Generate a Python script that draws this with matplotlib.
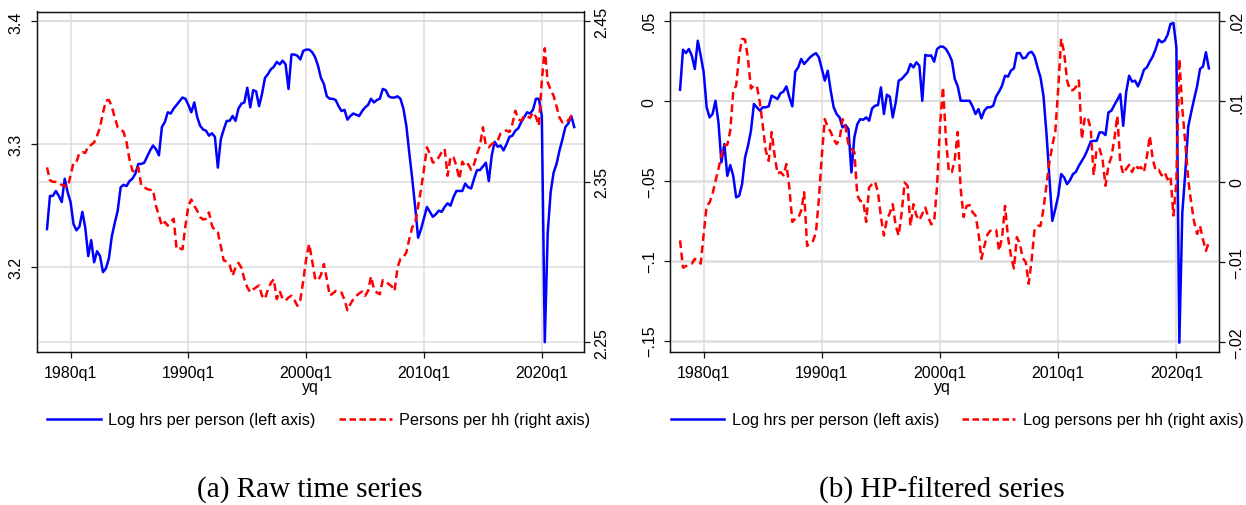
import numpy as np
import pandas as pd
import matplotlib
matplotlib.use("Agg")
import matplotlib.pyplot as plt
from matplotlib.lines import Line2D

plt.rcParams['font.family'] = ['Liberation Sans', 'DejaVu Sans']

# ---------------- data ----------------
quarters = pd.period_range("1978Q1", "2022Q4", freq="Q")
xq = np.asarray(quarters.year + (quarters.quarter - 1) / 4.0, dtype=float)

log_hrs_raw = [
    3.231, 3.258, 3.258, 3.262, 3.258, 3.253, 3.272, 3.261, 3.253, 3.235,
    3.230, 3.233, 3.245, 3.232, 3.209, 3.222, 3.204, 3.213, 3.209, 3.196,
    3.199, 3.207, 3.225, 3.236, 3.246, 3.265, 3.267, 3.266, 3.270, 3.272,
    3.276, 3.284, 3.284, 3.285, 3.290, 3.295, 3.299, 3.296, 3.291, 3.314,
    3.318, 3.326, 3.325, 3.329, 3.332, 3.335, 3.338, 3.337, 3.332, 3.326,
    3.334, 3.322, 3.315, 3.312, 3.311, 3.307, 3.309, 3.306, 3.281, 3.304,
    3.312, 3.319, 3.319, 3.323, 3.319, 3.329, 3.333, 3.334, 3.346, 3.330,
    3.344, 3.343, 3.331, 3.341, 3.354, 3.357, 3.361, 3.363, 3.367, 3.365,
    3.368, 3.365, 3.345, 3.373, 3.373, 3.372, 3.369, 3.376, 3.377, 3.377,
    3.375, 3.371, 3.364, 3.354, 3.349, 3.339, 3.337, 3.337, 3.336, 3.331,
    3.327, 3.328, 3.320, 3.323, 3.325, 3.324, 3.323, 3.327, 3.330, 3.332,
    3.337, 3.334, 3.336, 3.337, 3.345, 3.344, 3.339, 3.338, 3.338, 3.339,
    3.337, 3.329, 3.315, 3.293, 3.272, 3.249, 3.224, 3.231, 3.240, 3.249,
    3.245, 3.241, 3.243, 3.246, 3.245, 3.249, 3.252, 3.250, 3.257, 3.262,
    3.262, 3.262, 3.268, 3.265, 3.264, 3.272, 3.279, 3.279, 3.282, 3.285,
    3.270, 3.291, 3.302, 3.298, 3.299, 3.295, 3.300, 3.306, 3.307, 3.311,
    3.313, 3.318, 3.322, 3.326, 3.325, 3.328, 3.337, 3.337, 3.323, 3.139,
    3.228, 3.261, 3.277, 3.284, 3.295, 3.304, 3.314, 3.317, 3.323, 3.314,
]

persons_hh_raw = [
    2.359, 2.351, 2.350, 2.350, 2.3495, 2.348, 2.3476, 2.3466, 2.354, 2.362,
    2.3625, 2.368, 2.3685, 2.368, 2.3725, 2.373, 2.3746, 2.3787, 2.384, 2.393,
    2.4005, 2.401, 2.397, 2.390, 2.384, 2.383, 2.381, 2.3746, 2.364, 2.357,
    2.356, 2.359, 2.3476, 2.3466, 2.3455, 2.345, 2.345, 2.335, 2.329, 2.3227,
    2.325, 2.3227, 2.3248, 2.327, 2.308, 2.3085, 2.308, 2.3227, 2.335, 2.339,
    2.335, 2.332, 2.328, 2.3265, 2.327, 2.331, 2.3227, 2.3195, 2.3185, 2.310,
    2.301, 2.3005, 2.2985, 2.2915, 2.2965, 2.2995, 2.2965, 2.2894, 2.2843, 2.2812,
    2.283, 2.2843, 2.2855, 2.279, 2.277, 2.283, 2.287, 2.2894, 2.277, 2.282,
    2.277, 2.276, 2.278, 2.279, 2.2763, 2.2728, 2.2763, 2.2884, 2.302, 2.3113,
    2.301, 2.290, 2.2884, 2.292, 2.2988, 2.2894, 2.279, 2.2805, 2.282, 2.281,
    2.281, 2.2765, 2.270, 2.2738, 2.277, 2.279, 2.2805, 2.2817, 2.279, 2.282,
    2.2911, 2.2832, 2.281, 2.280, 2.2888, 2.288, 2.2863, 2.285, 2.282, 2.2967,
    2.302, 2.303, 2.306, 2.3144, 2.3217, 2.3243, 2.335, 2.3455, 2.358, 2.3715,
    2.3673, 2.362, 2.3626, 2.3653, 2.3684, 2.3705, 2.3538, 2.3657, 2.3653, 2.360,
    2.3517, 2.3626, 2.3595, 2.361, 2.3575, 2.361, 2.3673, 2.3725, 2.384, 2.3725,
    2.3715, 2.3735, 2.3746, 2.3756, 2.3802, 2.3815, 2.382, 2.381, 2.386, 2.3943,
    2.389, 2.388, 2.391, 2.391, 2.3898, 2.3933, 2.3905, 2.385, 2.413, 2.4332,
    2.412, 2.4073, 2.4036, 2.397, 2.390, 2.387, 2.3885, 2.388, 2.391, 2.3922,
]

log_hrs_hp = [
    0.0071, 0.0322, 0.0301, 0.0326, 0.0284, 0.0201, 0.0378, 0.0284, 0.018, -0.0039,
    -0.0102, -0.0081, 0.0002, -0.0133, -0.0384, -0.0269, -0.0468, -0.0401, -0.0468, -0.0603,
    -0.0593, -0.052, -0.0353, -0.028, -0.0186, -0.0018, -0.0039, -0.006, -0.0039, -0.0039,
    -0.0033, 0.0034, 0.0024, 0.0013, 0.0049, 0.006, 0.0092, 0.0024, -0.0033, 0.0184,
    0.0211, 0.0264, 0.0232, 0.0253, 0.0274, 0.0289, 0.030, 0.0274, 0.0201, 0.0128,
    0.019, 0.0065, -0.0039, -0.0081, -0.0102, -0.0165, -0.015, -0.0175, -0.0447, -0.0227,
    -0.0144, -0.0113, -0.0117, -0.0102, -0.0123, -0.0046, -0.0029, -0.0025, 0.0086, -0.0081,
    0.0040, 0.0028, -0.0102, -0.0008, 0.0128, 0.0138, 0.0159, 0.018, 0.0232, 0.0211,
    0.0243, 0.0222, 0.0002, 0.0289, 0.0284, 0.0286, 0.0247, 0.0326, 0.0341, 0.0341,
    0.0326, 0.0295, 0.0253, 0.0138, 0.0092, 0.0002, 0.0002, 0.0002, 0.0002, -0.0033,
    -0.0081, -0.005, -0.0108, -0.006, -0.0039, -0.0039, -0.0029, 0.003, 0.006, 0.0097,
    0.0159, 0.0153, 0.0191, 0.0205, 0.030, 0.0301, 0.0268, 0.0272, 0.0301, 0.0309,
    0.028, 0.0211, 0.0149, 0.0034, -0.0196, -0.0468, -0.075, -0.0677, -0.0593, -0.0457,
    -0.0478, -0.052, -0.0495, -0.0457, -0.0443, -0.0405, -0.0374, -0.0343, -0.0301, -0.0253,
    -0.0249, -0.0249, -0.0196, -0.0196, -0.0213, -0.0071, -0.006, -0.0025, 0.0008, 0.0044,
    -0.0155, 0.0055, 0.0159, 0.0122, 0.0128, 0.0092, 0.0138, 0.0196, 0.0211, 0.0247,
    0.028, 0.0326, 0.0385, 0.0368, 0.0378, 0.0414, 0.0483, 0.0489, 0.0337, -0.1513,
    -0.070, -0.045, -0.016, -0.0071, 0.0013, 0.0092, 0.0201, 0.0217, 0.0306, 0.0205,
]

log_persons_hp = [
    -0.0073, -0.0107, -0.0105, -0.0104, -0.0102, -0.0096, -0.0098, -0.0102, -0.0065, -0.003,
    -0.0026, -0.0015, 0.0001, 0.0016, 0.0033, 0.0045, 0.0046, 0.0064, 0.0112, 0.012,
    0.0157, 0.0178, 0.0177, 0.0153, 0.0116, 0.012, 0.0119, 0.0099, 0.007, 0.0039,
    0.0026, 0.0062, 0.0033, 0.001, 0.0012, 0.0008, 0.0022, -0.0007, -0.005, -0.0046,
    -0.0045, -0.0036, -0.0013, -0.008, -0.0076, -0.0074, -0.0063, -0.0021, 0.0033, 0.0078,
    0.0068, 0.0062, 0.0053, 0.0047, 0.0053, 0.0078, 0.0069, 0.0046, 0.0041, 0.0037,
    -0.0017, -0.0024, -0.0024, -0.005, -0.0007, -0.0003, 0.0, -0.0013, -0.0044, -0.0067,
    -0.0047, -0.0039, -0.0028, -0.0055, -0.0067, -0.0039, -0.0001, -0.0005, -0.0055, -0.0028,
    -0.0042, -0.0048, -0.004, -0.0032, -0.0044, -0.0053, -0.005, -0.0005, 0.007, 0.0118,
    0.0053, 0.0012, 0.0012, 0.0028, 0.0062, -0.001, -0.0044, -0.003, -0.0029, -0.0038,
    -0.0042, -0.0063, -0.0096, -0.008, -0.0066, -0.0061, -0.006, -0.006, -0.0086, -0.0069,
    -0.003, -0.0069, -0.0092, -0.0108, -0.0069, -0.0077, -0.0095, -0.01, -0.0127, -0.0098,
    -0.0059, -0.0055, -0.0055, -0.0034, -0.0005, 0.0024, 0.0045, 0.0062, 0.0116, 0.0178,
    0.0161, 0.0126, 0.0114, 0.0114, 0.0118, 0.0126, 0.0053, 0.008, 0.008, 0.0066,
    0.0008, 0.0041, 0.0041, 0.0028, -0.0005, 0.002, 0.0031, 0.0053, 0.0082, 0.0024,
    0.001, 0.0016, 0.0021, 0.0012, 0.0021, 0.0017, 0.0018, 0.0012, 0.0031, 0.0057,
    0.0028, 0.0014, 0.0015, 0.0008, 0.0012, 0.0003, 0.0007, -0.0042, 0.0, 0.0153,
    0.0091, 0.0049, 0.0003, -0.0026, -0.005, -0.0065, -0.0055, -0.0072, -0.0086, -0.0075,
]

xtick_pos = [1980, 1990, 2000, 2010, 2020]
xtick_labels = ["1980q1", "1990q1", "2000q1", "2010q1", "2020q1"]

raw_left_ticks = [3.2, 3.3, 3.4]
raw_left_labels = ["3.2", "3.3", "3.4"]
raw_right_ticks = [2.25, 2.35, 2.45]
raw_right_labels = ["2.25", "2.35", "2.45"]

hp_left_ticks = [-0.15, -0.1, -0.05, 0.0, 0.05]
hp_left_labels = ["\u2212.15", "\u2212.1", "\u2212.05", "0", ".05"]
hp_right_ticks = [-0.02, -0.01, 0.0, 0.01, 0.02]
hp_right_labels = ["\u2212.02", "\u2212.01", "0", ".01", ".02"]

legend_a = ["Log hrs per person (left axis)", "Persons per hh (right axis)"]
legend_b = ["Log hrs per person (left axis)", "Log persons per hh (right axis)"]
captions = ["(a) Raw time series", "(b) HP-filtered series"]

# ---------------- figure ----------------
W, H = 1246, 506
fig = plt.figure(figsize=(W / 100, H / 100), dpi=100)

GRID = "#dcdcdc"
BLUE = "#0000ff"
RED = "#ff0000"
LW = 1.8


def make_panel(px_left, px_right, xlim, ylim, yrlim, lt, ll, rt, rl, y1, y2):
    top, bot = 12.5, 353.0
    ax = fig.add_axes([px_left / W, 1 - bot / H, (px_right - px_left) / W, (bot - top) / H])
    axr = ax.twinx()
    ax.set_xlim(*xlim)
    ax.set_ylim(*ylim)
    axr.set_ylim(*yrlim)
    ax.set_xticks(xtick_pos)
    ax.set_xticklabels(xtick_labels)
    ax.set_yticks(lt)
    ax.set_yticklabels(ll)
    axr.set_yticks(rt)
    axr.set_yticklabels(rl)
    ax.grid(True, axis="both", color=GRID, lw=1.1)
    axr.grid(True, axis="y", color=GRID, lw=1.1)
    for a in (ax, axr):
        for s in a.spines.values():
            s.set_linewidth(0.9)
            s.set_color("#111111")
        a.tick_params(direction="out", length=4.5, width=0.9, labelsize=11.5,
                      color="#111111")
    ax.tick_params(axis="y", pad=5)
    axr.tick_params(axis="y", pad=3)
    ax.tick_params(axis="x", pad=5)
    for lab in ax.get_yticklabels() + axr.get_yticklabels():
        lab.set_rotation(90)
        lab.set_va("center")
    axr.plot(xq, y1, color=BLUE, lw=LW, transform=ax.transData, zorder=3)
    axr.plot(xq, y2, color=RED, lw=LW, dashes=(3.1, 1.8), zorder=4)
    return ax, axr


XLIM = (1977.15, 2023.58)
make_panel(37, 584, XLIM, (3.131, 3.408), (2.244, 2.4561),
           raw_left_ticks, raw_left_labels, raw_right_ticks, raw_right_labels,
           log_hrs_raw, persons_hh_raw)
make_panel(670, 1218.7, XLIM, (-0.1571, 0.0561), (-0.0212, 0.0212),
           hp_left_ticks, hp_left_labels, hp_right_ticks, hp_right_labels,
           log_hrs_hp, log_persons_hp)

for cx, labels, lcx, cap in [(310, legend_a, 319, captions[0]),
                             (942, legend_b, 957, captions[1])]:
    fig.text(cx / W, 1 - 388 / H, "yq", ha="center", va="center", fontsize=11.5)
    handles = [Line2D([], [], color=BLUE, lw=LW),
               Line2D([], [], color=RED, lw=LW, dashes=(2.6, 1.4))]
    fig.legend(handles, labels, loc="center", bbox_to_anchor=(lcx / W, 1 - 421 / H),
               ncol=2, frameon=False, fontsize=11.7, handlelength=3.3,
               handletextpad=0.45, columnspacing=1.4)
    fig.text(cx / W, 1 - 490 / H, cap, ha="center", va="center", fontsize=21,
             family=["Liberation Serif", "DejaVu Serif"])

fig.savefig("out.png", dpi=100)
